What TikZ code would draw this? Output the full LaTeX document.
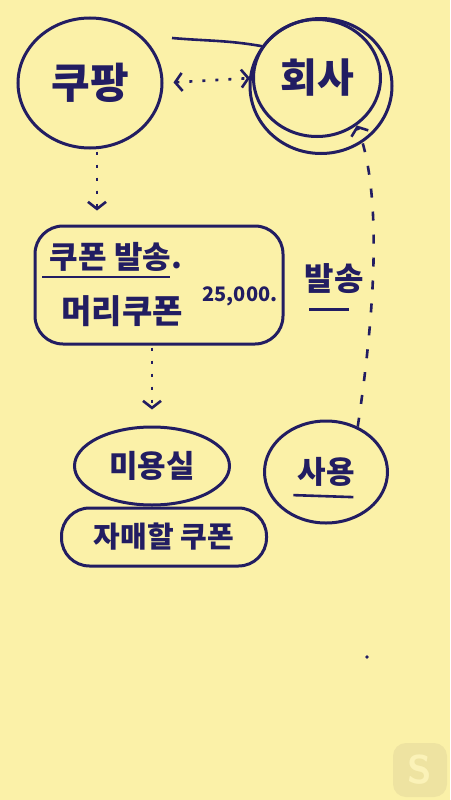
\documentclass[tikz,border=0pt]{standalone}
\usepackage{fontspec}
\usepackage{xcolor}
\usetikzlibrary{arrows.meta,shapes.geometric}
\newfontfamily\krfont{Noto Sans CJK KR}
\definecolor{paper}{HTML}{FBF1A8}
\definecolor{ink}{HTML}{221D62}
\definecolor{logobg}{HTML}{EEE3A1}
\definecolor{logofg}{HTML}{FBF2B8}
\tikzset{%
    pen/.style      = {draw=ink, line width=3pt, text=ink, font=\krfont},
    bubble/.style   = {pen, ellipse, inner sep=0pt},
    couponbox/.style= {pen, rectangle, rounded corners=28pt, inner sep=0pt},
    hop/.style      = {ink, line width=2.6pt, dash pattern=on 3pt off 10pt, -{Straight Barb[length=7pt,width=18pt]}},
    tail/.style     = {ink, line width=2.6pt, dash pattern=on 9pt off 14pt, -{Straight Barb[length=7pt,width=18pt]}},
}

\begin{document}
\begin{tikzpicture}[x=1pt,y=-1pt]
          \fill[paper] (0,0) rectangle (450,800);
          \useasboundingbox (0,0) rectangle (450,800);

          \begin{scope}
            \node[bubble, minimum width=144pt, minimum height=130pt, font=\krfont\bfseries\fontsize{42}{44}\selectfont] (cp) at (90,83) {쿠팡};
            \node[bubble, minimum width=127pt, minimum height=117pt, font=\krfont\bfseries\fontsize{40}{42}\selectfont] (hs) at (317,78) {회사};
            \node[bubble, minimum width=142pt, minimum height=135pt] (hs2) at (321,86) {};
            \coordinate (sc) at (172,38);
          \end{scope}

          \begin{scope}
            \node[couponbox, minimum width=248pt, minimum height=118pt] (cb) at (159,285) {};
            \node[text=ink, font=\krfont\bfseries\fontsize{31}{33}\selectfont] (cs) at (116,257) {쿠폰 발송.};
            \node[text=ink, font=\krfont\bfseries\fontsize{33}{35}\selectfont] (mr) at (122,311) {머리쿠폰};
            \node[text=ink, font=\krfont\bfseries\fontsize{20}{22}\selectfont] (pr) at (240,296) {25,000.};
            \node[text=ink, font=\krfont\bfseries\fontsize{32}{34}\selectfont] (bs) at (334,279) {발송};
          \end{scope}

          \begin{scope}
            \node[bubble, minimum width=155pt, minimum height=78pt, font=\krfont\bfseries\fontsize{31}{33}\selectfont] (my) at (152,466) {미용실};
            \node[couponbox, minimum width=205pt, minimum height=58pt, font=\krfont\bfseries\fontsize{29}{31}\selectfont] (jm) at (164,537) {자매할 쿠폰};
            \node[bubble, minimum width=123pt, minimum height=102pt, font=\krfont\bfseries\fontsize{31}{33}\selectfont] (sy) at (326,472) {사용};
          \end{scope}

          \begin{scope}
            \draw[ink, line width=2.6pt] (sc) to[out=-5,in=170] (hs.150);
            \draw[hop, {Straight Barb[length=7pt,width=18pt]}-{Straight Barb[length=7pt,width=18pt]}, shorten <=10pt, shorten >=2pt] (cp.east) -- (hs.west);
            \draw[hop, shorten <=2pt, shorten >=14pt] (cp.south -| 97,0) -- (cb.north -| 97,0);
            \draw[hop, shorten <=2pt, shorten >=16pt] (cb.south -| 152,0) -- (my.north);
            \draw[tail] (sy.55) .. controls (372,330) and (385,200) .. (hs.-50);
            \draw[ink, line width=2.6pt] (cs.south west) ++(-4,2) -- ++(128,0);
            \draw[ink, line width=2.6pt] (bs.south west) ++(8,12) -- ++(40,0);
            \draw[ink, line width=2.6pt] (sy.south west) ++(12,-14) -- ++(60,2);
          \end{scope}

          \fill[ink] (367,657) circle (1.8);
          \node[fill=logobg, rounded corners=13pt, minimum size=54pt, inner sep=0pt, text=logofg, font=\sffamily\bfseries\fontsize{40}{40}\selectfont] (lg) at (420,770) {S};
        \end{tikzpicture}
\end{document}
